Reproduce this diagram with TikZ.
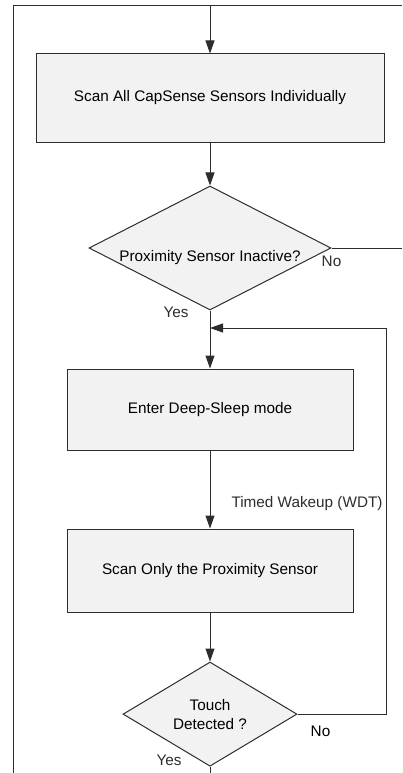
\documentclass[tikz,border=0pt]{standalone}
\usepackage{fontspec}
\setmainfont{Liberation Sans}
\usetikzlibrary{arrows.meta,positioning,shapes.geometric}
\definecolor{boxfill}{RGB}{242,242,242}
\definecolor{linegray}{RGB}{45,45,45}

\begin{document}
\begin{tikzpicture}[x=1pt, y=-1pt,
          font=\fontsize{15.3}{19}\selectfont,
          process/.style={draw=linegray, line width=1pt, fill=boxfill,
                          align=center, inner sep=2pt},
          decision/.style={diamond, draw=linegray, line width=1pt,
                           fill=boxfill, align=center, inner sep=0pt},
          arr/.style={-{Triangle[length=13pt,width=9pt]}, line width=1pt, linegray},
          flow/.style={line width=1pt, linegray},
          lbl/.style={inner sep=1pt}
        ]
          \useasboundingbox (0,0) rectangle (402,773);
          \node[process, minimum width=348pt, minimum height=88pt] (scanall) at (210,98) {Scan All CapSense Sensors Individually};
          \node[decision, minimum width=242pt, minimum height=124pt, below=43pt of scanall,
                label={[yshift=-10pt]center:Proximity Sensor Inactive?}] (prox) {};
          \node[process, minimum width=286pt, minimum height=81pt, below=58pt of prox] (sleep) {Enter Deep-Sleep mode};
          \node[process, minimum width=286pt, minimum height=83pt, below=78pt of sleep] (scanprox) {Scan Only the Proximity Sensor};
          \node[decision, minimum width=174pt, minimum height=103pt, below=49pt of scanprox] (touch) {Touch\\Detected ?};
          % frame lines and free ends
          \coordinate (topc) at (210,6);
          \coordinate (tl) at (13,6);
          \coordinate (tr) at (402,6);
          \coordinate (bl) at (13,773);
          \coordinate (loopx) at (386,0);
          \coordinate (join) at (210,328);
          \draw[flow] (bl) -- (tl) -- (tr);
          \draw[arr]  (topc) -- (scanall);
          \draw[arr]  (scanall) -- (prox);
          \draw[flow] (prox.east) -- (prox.east -| tr)
            node[lbl, pos=0, below=6pt] {No};
          \draw[arr]  (prox.south) -- (sleep.north)
            node[lbl, pos=0, anchor=east, xshift=-20pt, yshift=-2pt] {Yes};
          \draw[arr]  (sleep) -- (scanprox)
            node[lbl, pos=0.68, right=20pt] {Timed Wakeup (WDT)};
          \draw[arr]  (scanprox) -- (touch);
          % loop back when no touch
          \draw[arr]  (touch.east) -- (touch.east -| loopx) -- (loopx |- join) -- (join);
          \node[lbl, below right=11pt and 12pt of touch.east] (no2) {No};
          \draw[flow] (touch.south) -- (touch.south |- bl)
            node[lbl, pos=0, anchor=east, xshift=-27pt, yshift=6pt] {Yes};
        \end{tikzpicture}
\end{document}
